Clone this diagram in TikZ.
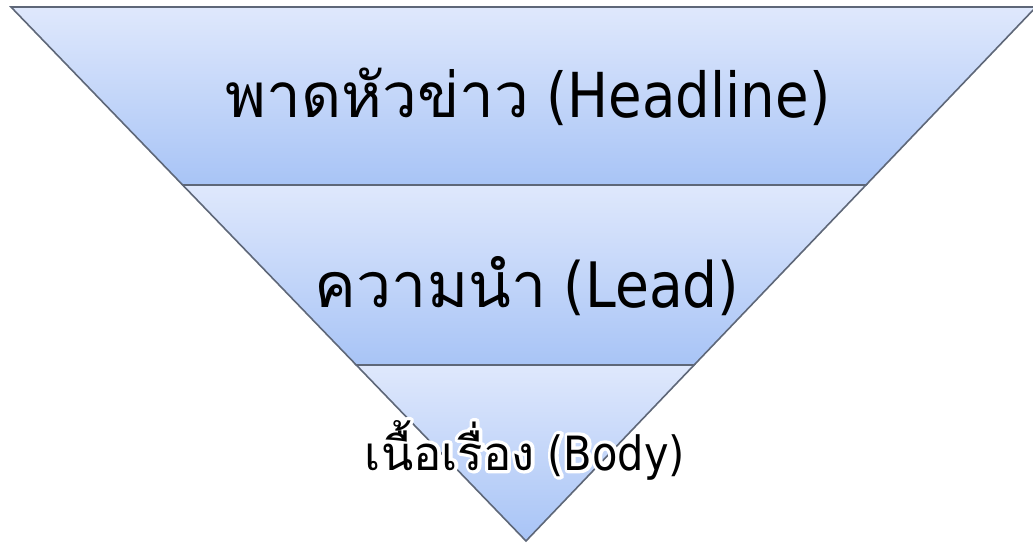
\documentclass[tikz,border=0pt]{standalone}
\usepackage{fontspec}
\newfontfamily\thaifont[Script=Thai]{Loma}
\newfontfamily\latinfont[FakeStretch=0.88]{DejaVu Sans}
\usetikzlibrary{calc}
\definecolor{bandtop}{HTML}{DFE8FC}
\definecolor{bandbot}{HTML}{A8C4F6}
\definecolor{edgec}{HTML}{5E6778}
\definecolor{shadowc}{HTML}{404040}
\tikzset{
  band/.style={shading=axis, top color=bandtop, bottom color=bandbot,
               draw=edgec, line width=1.2pt, line join=miter},
  bandshadow/.style={fill=shadowc, draw=none},
  label/.style={anchor=base, inner sep=0pt, text=black},
}
\newcommand{\headtext}{{\thaifont พาดหัวข่าว}{\latinfont\ (Headline)}}
\newcommand{\leadtext}{{\thaifont ความนำ}{\latinfont\ (Lead)}}
\newcommand{\bodytext}{{\thaifont เนื้อเรื่อง}{\latinfont\ (Body)}}
% white halo: the same text stroked in white underneath the black text
\newcommand{\halo}[1]{%
  \rlap{\special{pdf:literal direct 2 Tr 1 1 1 RG 1 1 1 rg 5 w 1 j}#1%
        \special{pdf:literal direct 0 Tr 0 0 0 RG 0 0 0 rg}}#1}
\begin{document}
\begin{tikzpicture}[x=0.75pt,y=-0.75pt]
\clip (0,0) rectangle (1033,544);
\fill[white] (0,0) rectangle (1033,544);
% inverted triangle split into three bands
\coordinate (TL) at (11,7);
\coordinate (TR) at (1036,7);
\coordinate (A) at (526,541);
\coordinate (L1) at ($(TL)!0.3333!(A)$);
\coordinate (R1) at ($(TR)!0.3333!(A)$);
\coordinate (L2) at ($(TL)!0.6704!(A)$);
\coordinate (R2) at ($(TR)!0.6704!(A)$);
% soft drop shadow
\foreach \s/\o in {5/0.06,4/0.07,3/0.09,2/0.12} {
  \fill[bandshadow, opacity=\o, shift={(\s,\s)}] (TL) -- (TR) -- (A) -- cycle;
}
% bands
\path[band] (L2) -- (R2) -- (A) -- cycle;
\path[band] (L1) -- (R1) -- (R2) -- (L2) -- cycle;
\path[band] (TL) -- (TR) -- (R1) -- (L1) -- cycle;
% labels
\node[label, font=\fontsize{46.5}{52}\selectfont] (head) at (528,117) {\headtext};
\node[label, font=\fontsize{47}{52}\selectfont] (lead) at (527,307) {\leadtext};
\node[label, font=\fontsize{35.4}{40}\selectfont] (body) at (525,470) {\halo{\bodytext}};
\end{tikzpicture}
\end{document}
